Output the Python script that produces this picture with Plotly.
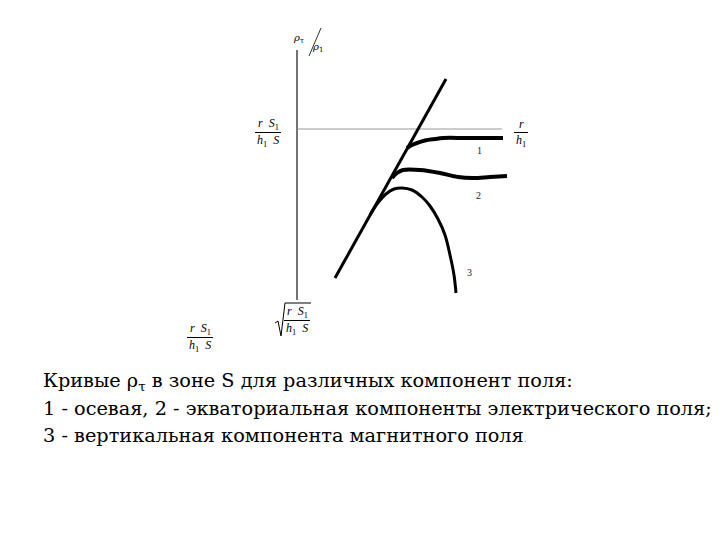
import plotly.graph_objects as go

# Chart units: x ~ r/h1 scale, y ~ rho_t/rho_1 scale (arbitrary)
asym_x = [3.8, 14.9]
asym_y = [2.2, 22.1]

c1_x = [11.0, 11.5, 12.0, 12.8, 13.8, 14.6, 17.0, 20.6]
c1_y = [15.2, 15.5, 15.7, 15.95, 16.1, 16.2, 16.2, 16.2]

c2_x = [9.5, 10.0, 10.6, 12.3, 14.3, 16.1, 17.6, 19.3, 21.0]
c2_y = [12.2, 12.7, 13.0, 13.0, 12.7, 12.3, 12.2, 12.3, 12.4]

c3_x = [7.3, 8.0, 8.9, 9.7, 10.5, 11.5, 12.5, 13.3, 14.1, 14.8, 15.3, 15.7, 15.9]
c3_y = [8.5, 9.6, 10.6, 11.1, 11.2, 11.0, 10.3, 9.4, 8.1, 6.5, 4.5, 2.5, 0.7]

ref_level = 17.1
ref_x_end = 20.5
axis_top = 25.0

curve_labels = ["1", "2", "3"]
curve_label_x = [18.2, 18.1, 17.2]
curve_label_y = [15.0, 10.5, 2.8]

caption = [
    "Кривые ρ<sub>τ</sub> в зоне S для различных компонент поля:",
    "1 - осевая, 2 - экваториальная компоненты электрического поля;",
    "3 - вертикальная компонента магнитного поля<span style='color:#999;font-size:10px'>.</span>",
]

fig = go.Figure()

fig.add_trace(go.Scatter(x=[0, 0], y=[0, axis_top], mode="lines",
                         line=dict(color="#444", width=1.5), hoverinfo="skip"))
fig.add_trace(go.Scatter(x=[0, ref_x_end], y=[ref_level, ref_level], mode="lines",
                         line=dict(color="#999", width=1), hoverinfo="skip"))
fig.add_trace(go.Scatter(x=asym_x, y=asym_y, mode="lines",
                         line=dict(color="black", width=3), hoverinfo="skip"))
fig.add_trace(go.Scatter(x=c1_x, y=c1_y, mode="lines", line_shape="spline",
                         line=dict(color="black", width=4), hoverinfo="skip"))
fig.add_trace(go.Scatter(x=c2_x, y=c2_y, mode="lines", line_shape="spline",
                         line=dict(color="black", width=4), hoverinfo="skip"))
fig.add_trace(go.Scatter(x=c3_x, y=c3_y, mode="lines", line_shape="spline",
                         line=dict(color="black", width=3), hoverinfo="skip"))

latin_serif = "Liberation Serif"
cyr_serif = "DejaVu Serif"
small = dict(family=latin_serif, size=12, color="black")
greek = dict(family=cyr_serif, size=10, color="black")

ann = []
for t, x, y in zip(curve_labels, curve_label_x, curve_label_y):
    ann.append(dict(x=x, y=y, text=t, showarrow=False, font=dict(family=latin_serif, size=10, color="#222")))

def frac(xc, ytop, ybot, num, den, half):
    ann.append(dict(x=xc, y=ytop, text=num, showarrow=False, font=small))
    ann.append(dict(x=xc, y=ybot, text=den, showarrow=False, font=small))
    fig.add_shape(type="line", x0=xc - half, x1=xc + half, y0=(ytop + ybot) / 2, y1=(ytop + ybot) / 2,
                  line=dict(color="black", width=1))

num_rs = "<i>r</i>  <i>S</i><sub>1</sub>"
den_hs = "<i>h</i><sub>1</sub>  <i>S</i>"
frac(-2.9, 17.6, 15.9, num_rs, den_hs, 1.3)
frac(22.4, 17.6, 15.9, "<i>r</i>", "<i>h</i><sub>1</sub>", 0.7)
frac(0.0, -1.2, -2.9, num_rs, den_hs, 1.3)
fig.add_shape(type="path", path="M -2.2,-2.3 L -1.9,-2.1 L -1.6,-3.6 L -1.2,-0.3 L 1.4,-0.3",
              line=dict(color="black", width=1))
frac(-9.7, -2.9, -4.6, num_rs, den_hs, 1.3)
ann.append(dict(x=0.1, y=26.2, text="<i>ρ</i><sub>τ</sub>", showarrow=False, font=greek))
ann.append(dict(x=2.0, y=25.3, text="<i>ρ</i><sub>1</sub>", showarrow=False, font=greek))
fig.add_shape(type="line", x0=1.2, x1=2.4, y0=24.4, y1=27.2, line=dict(color="#333", width=1))

for i, line in enumerate(caption):
    ann.append(dict(xref="paper", yref="paper", x=33 / 720, y=1 - (373 + 27 * i) / 540,
                    xanchor="left", yanchor="middle", text=line, showarrow=False,
                    font=dict(family=cyr_serif, size=19.3, color="black")))

# page body has an 8px margin: ranges are set so the marks land where the reference has them
fig.update_layout(
    width=720, height=540,
    margin=dict(l=0, r=0, t=0, b=0),
    paper_bgcolor="white", plot_bgcolor="white",
    showlegend=False,
    xaxis=dict(range=[-28.9, 43.1], visible=False, fixedrange=True),
    yaxis=dict(range=[-24.8, 29.2], visible=False, fixedrange=True),
    annotations=ann,
)

fig.write_html("out.html")
